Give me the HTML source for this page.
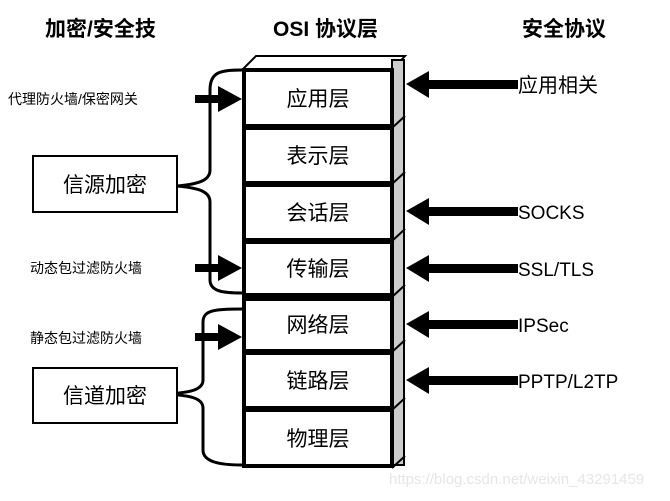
<!DOCTYPE html>
<html><head><meta charset="utf-8"><style>
body{margin:0;background:#fff;}
svg text{font-family:"Liberation Sans","Noto Sans CJK SC",sans-serif;}
</style></head><body>
<svg width="670" height="496" viewBox="0 0 670 496" xmlns="http://www.w3.org/2000/svg">
<rect width="670" height="496" fill="#fff"/>
<g font-weight="bold" font-size="21" fill="#000">
<text x="45" y="36">加密/安全技</text>
<text x="273" y="36">OSI 协议层</text>
<text x="522" y="36">安全协议</text>
</g>
<!-- top face -->
<polygon points="242,70 256,56 405,56 392,70" fill="#fff" stroke="#000" stroke-width="2"/>
<!-- side panel -->
<rect x="392" y="60" width="12" height="405" fill="#ccc" stroke="#000" stroke-width="2"/>
<g stroke="#000" stroke-width="2">
<line x1="392" y1="128" x2="405" y2="116"/><line x1="392" y1="184" x2="405" y2="172"/>
<line x1="392" y1="241" x2="405" y2="229"/><line x1="392" y1="297" x2="405" y2="285"/>
<line x1="392" y1="352" x2="405" y2="340"/><line x1="392" y1="410" x2="405" y2="398"/>
<line x1="392" y1="468" x2="405" y2="456"/>
</g>
<g fill="#fff" stroke="#000" stroke-width="4">
<rect x="244" y="70" width="148" height="56"/>
<rect x="244" y="128" width="148" height="55"/>
<rect x="244" y="185" width="148" height="55"/>
<rect x="244" y="242" width="148" height="53"/>
<rect x="244" y="299" width="148" height="52"/>
<rect x="244" y="353" width="148" height="55"/>
<rect x="244" y="410" width="148" height="56"/>
</g>
<g font-size="21" fill="#000" text-anchor="middle">
<text x="318" y="106">应用层</text>
<text x="318" y="163">表示层</text>
<text x="318" y="220">会话层</text>
<text x="318" y="276">传输层</text>
<text x="318" y="332">网络层</text>
<text x="318" y="388">链路层</text>
<text x="318" y="446">物理层</text>
</g>
<!-- braces -->
<g fill="none" stroke="#000" stroke-width="3">
<path d="M242,70 C220,70 210,72 210,90 L210,170 C210,180 200,184 177,186 C200,188 210,192 210,202 L210,280 C210,292 225,293 242,293"/>
<path d="M242,309 C215,309 203,310 203,322 L203,380 C203,390 190,393 163,394 C190,395 203,398 203,408 L203,450 C203,462 220,465 242,465"/>
</g>
<g fill="#fff" stroke="#000" stroke-width="2">
<rect x="33" y="156" width="144" height="56"/>
<rect x="33" y="368" width="144" height="55"/>
</g>
<g font-size="21" fill="#000" text-anchor="middle">
<text x="105" y="192">信源加密</text>
<text x="105" y="403">信道加密</text>
</g>
<!-- left arrows -->
<g fill="#000">
<rect x="195" y="95" width="25" height="8"/><polygon points="218,86 242,99 218,112"/>
<rect x="195" y="264" width="25" height="8"/><polygon points="218,255 242,268 218,281"/>
<rect x="195" y="333" width="25" height="8"/><polygon points="218,324 242,337 218,350"/>
</g>
<g font-size="14" fill="#000">
<text x="8" y="104">代理防火墙/保密网关</text>
<text x="30" y="273">动态包过滤防火墙</text>
<text x="30" y="343">静态包过滤防火墙</text>
</g>
<!-- right arrows -->
<g fill="#000">
<rect x="428" y="80" width="90" height="9"/><polygon points="429,71 406,84 429,98"/>
<rect x="428" y="207" width="90" height="9"/><polygon points="429,198 406,211 429,225"/>
<rect x="428" y="264" width="90" height="9"/><polygon points="429,255 406,268 429,282"/>
<rect x="428" y="320" width="90" height="9"/><polygon points="429,311 406,324 429,338"/>
<rect x="428" y="376" width="90" height="9"/><polygon points="429,367 406,380 429,394"/>
</g>
<g font-size="20" fill="#000">
<text x="518" y="92">应用相关</text>
</g>
<g font-size="19" fill="#000" font-family="Liberation Mono" style="font-family:'Liberation Mono',monospace">
<text x="518" y="219">SOCKS</text>
<text x="518" y="276">SSL/TLS</text>
<text x="518" y="332">IPSec</text>
<text x="518" y="388">PPTP/L2TP</text>
</g>
<text x="389" y="484" font-size="15" fill="#e6e6e6">https://blog.csdn.net/weixin_43291459</text>
</svg>
</body></html>
